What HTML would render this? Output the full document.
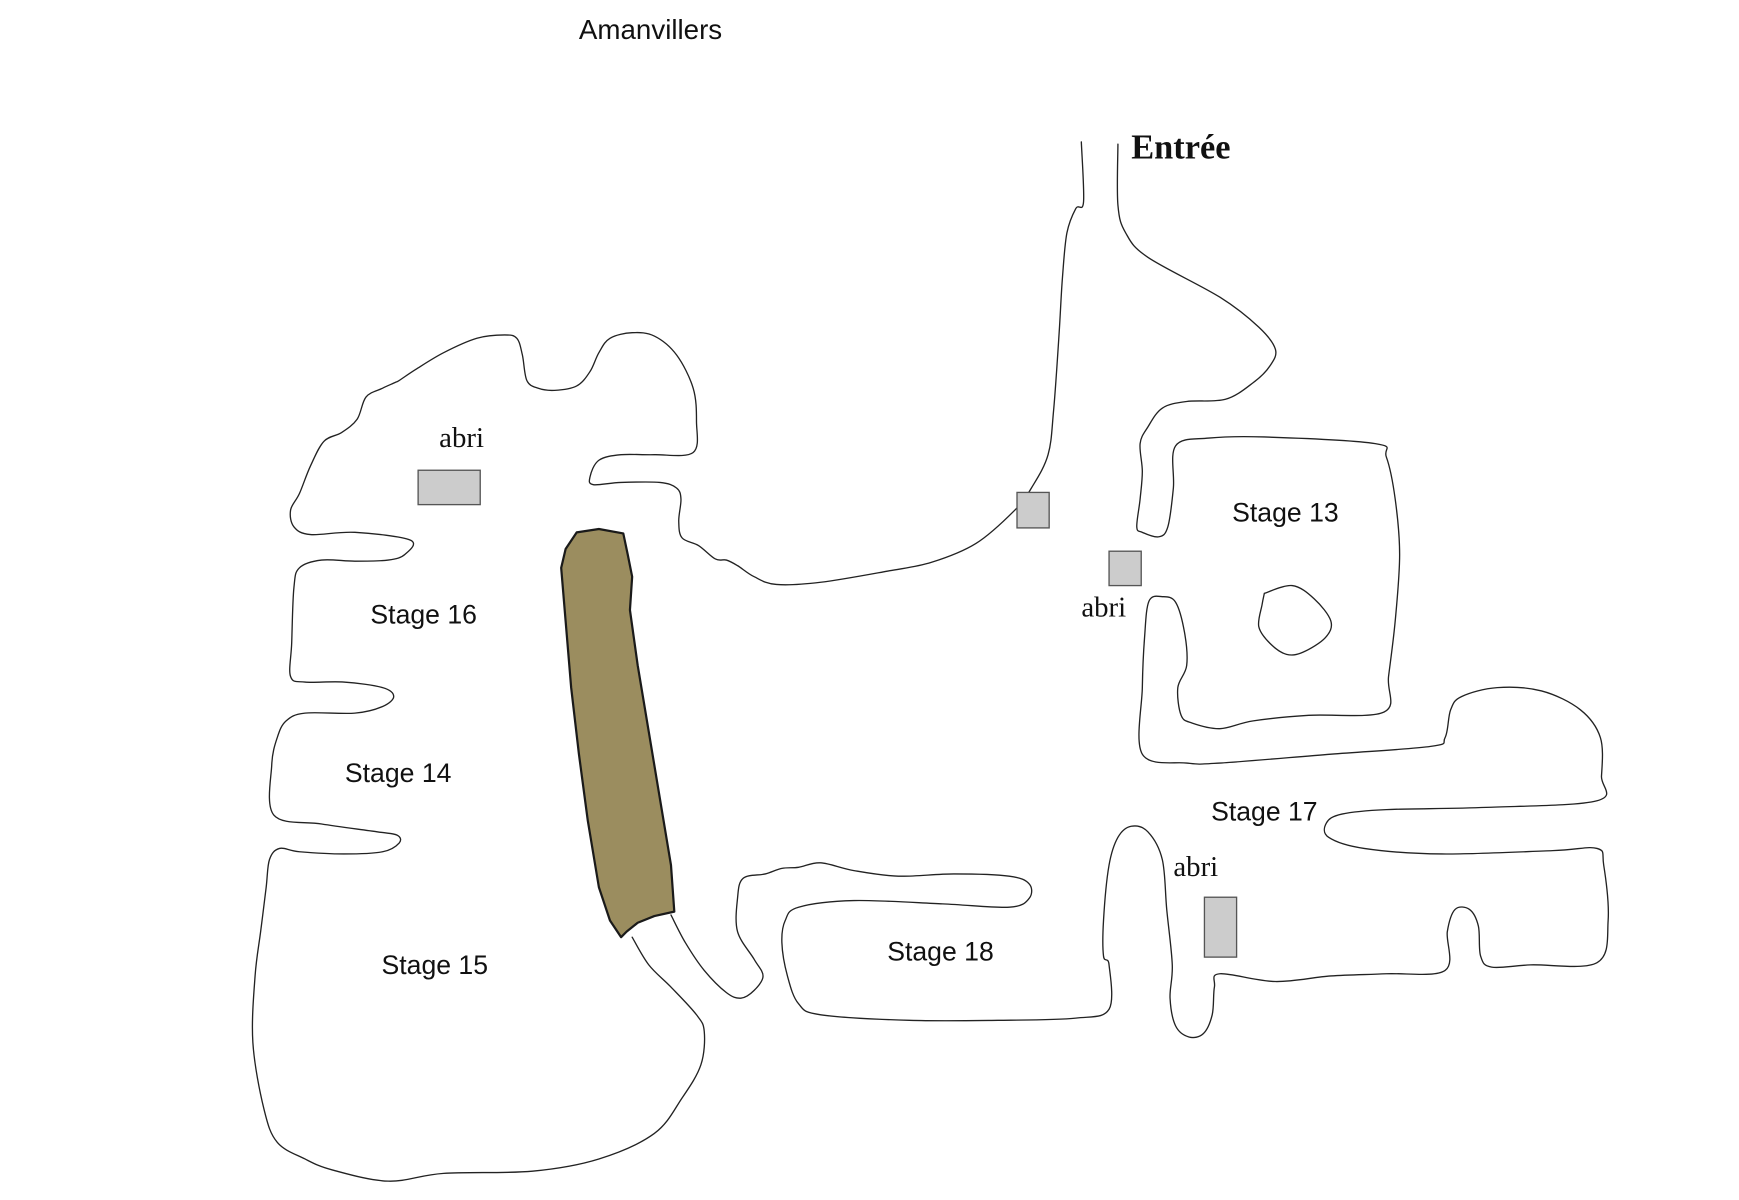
<!DOCTYPE html>
<html><head><meta charset="utf-8"><style>
html,body{margin:0;padding:0;background:#fff;}
svg{display:block;}
.s{font-family:"Liberation Sans",sans-serif;font-size:24px;fill:#111;}
.r{font-family:"Liberation Serif",serif;font-size:26px;fill:#111;}
</style></head><body>
<svg id="sv" width="1739" height="1200" viewBox="0 0 1568 1082" preserveAspectRatio="none">
<g fill="none" stroke="#222" stroke-width="1.2" stroke-linejoin="round" stroke-linecap="round">
<polyline class="sm" points="1008,130 1008,185 1015,210 1035,232 1100,268 1135,295 1150,315 1145,330 1130,345 1105,360 1070,362 1048,368 1035,385 1028,400 1030,425 1028,450 1025,475 1030,480 1045,484 1053,475 1058,440 1060,402 1090,395 1140,394 1240,400 1250,412 1258,450 1262,500 1258,560 1252,610 1248,642 1180,645 1130,650 1100,657 1075,652 1065,645 1062,620 1070,600 1068,570 1060,543 1048,538 1036,542 1032,575 1030,620 1030,680 1070,688 1100,688 1200,680 1290,673 1303,665 1308,640 1318,628 1350,620 1390,623 1425,640 1443,665 1444,700 1440,722 1340,728 1250,730 1210,734 1196,742 1198,755 1230,765 1300,770 1400,767 1440,765 1446,780 1450,830 1440,868 1380,870 1345,872 1335,862 1333,835 1325,820 1312,820 1305,840 1303,875 1250,878 1200,880 1150,885 1100,878 1095,890 1093,915 1085,932 1072,935 1060,925 1055,900 1057,870 1052,820 1048,775 1035,750 1020,745 1008,755 1000,780 995,830 995,862 1000,870 1000,910 970,918 900,920 820,920 740,915 720,905 710,880 705,850 708,830 720,818 770,812 850,815 910,818 928,810 928,797 910,790 860,788 810,790 770,785 740,778 720,782 705,783 690,788 670,792 665,810 665,840 680,865 688,880 680,893 668,900 655,895 635,875 618,850 605,825"/>
<polyline class="sm" points="975,128 977,182 970,188 962,210 958,250 955,300 950,370 945,410 930,440 915,460 880,490 840,507 800,515 740,525 700,527 680,520 665,510 655,505 645,504 630,492 615,485 612,470 614,450 610,440 595,435 560,435 535,437 532,430 540,415 560,410 590,410 625,408 628,380 625,350 610,320 590,303 570,300 550,305 540,318 532,335 520,348 500,352 485,350 475,343 471,320 466,305 455,302 430,305 400,318 375,333 360,343 356,345 345,350 330,358 322,378 308,390 292,398 280,420 270,445 262,460 265,475 280,482 320,480 370,487 365,500 350,505 320,506 290,505 270,512 265,530 263,580 262,610 275,615 310,615 345,620 355,628 345,637 320,643 275,643 258,650 250,665 245,690 247,735 290,743 340,750 358,753 360,760 345,768 310,770 270,768 252,765 243,775 240,800 235,840 230,880 228,940 238,1000 250,1030 275,1045 300,1055 350,1065 400,1058 480,1056 540,1045 590,1022 615,990 632,960 635,930 628,915 605,890 585,870 570,845"/>
<polyline class="sm" points="1140,535 1165,528 1185,540 1200,560 1195,575 1175,588 1160,590 1145,580 1135,565 1138,545 1140,535"/>
</g>
<polygon points="562,481 540,477 520,480 510,495 506,512 510,560 515,620 522,680 530,740 540,800 550,830 560,845 565,840 575,832 590,826 608,822 605,780 595,720 585,660 575,600 568,550 570,520 566,500" fill="#9b8d5f" stroke="#1a1a1a" stroke-width="2" stroke-linejoin="round"/>
<g fill="#cccccc" stroke="#555" stroke-width="1.2">
<rect x="377" y="424" width="56" height="31"/>
<rect x="917" y="444" width="29" height="32"/>
<rect x="1000" y="497" width="29" height="31"/>
<rect x="1086" y="809" width="29" height="54"/>
</g>
<text class="s" x="522" y="35" style="font-size:25px">Amanvillers</text>
<text x="1020" y="143" font-family="Liberation Serif,serif" font-weight="bold" font-size="31" fill="#111">Entrée</text>
<text class="r" x="396" y="403">abri</text>
<text class="r" x="975" y="556">abri</text>
<text class="r" x="1058" y="790">abri</text>
<text class="s" x="334" y="562">Stage 16</text>
<text class="s" x="311" y="705">Stage 14</text>
<text class="s" x="344" y="878">Stage 15</text>
<text class="s" x="800" y="866">Stage 18</text>
<text class="s" x="1111" y="470">Stage 13</text>
<text class="s" x="1092" y="740">Stage 17</text>
</svg>
<script>
document.querySelectorAll('polyline.sm').forEach(function(pl){
  var n=pl.getAttribute('points').trim().split(/\s+/).map(function(p){var a=p.split(',');return [+a[0],+a[1]];});
  var d='M'+n[0][0]+','+n[0][1];
  for(var i=0;i<n.length-1;i++){
    var p0=n[Math.max(i-1,0)],p1=n[i],p2=n[i+1],p3=n[Math.min(i+2,n.length-1)];
    var c1=[p1[0]+(p2[0]-p0[0])/6,p1[1]+(p2[1]-p0[1])/6];
    var c2=[p2[0]-(p3[0]-p1[0])/6,p2[1]-(p3[1]-p1[1])/6];
    d+=' C'+c1[0].toFixed(1)+','+c1[1].toFixed(1)+' '+c2[0].toFixed(1)+','+c2[1].toFixed(1)+' '+p2[0]+','+p2[1];
  }
  var path=document.createElementNS('http://www.w3.org/2000/svg','path');
  path.setAttribute('d',d);
  pl.parentNode.replaceChild(path,pl);
});
</script>
</body></html>
